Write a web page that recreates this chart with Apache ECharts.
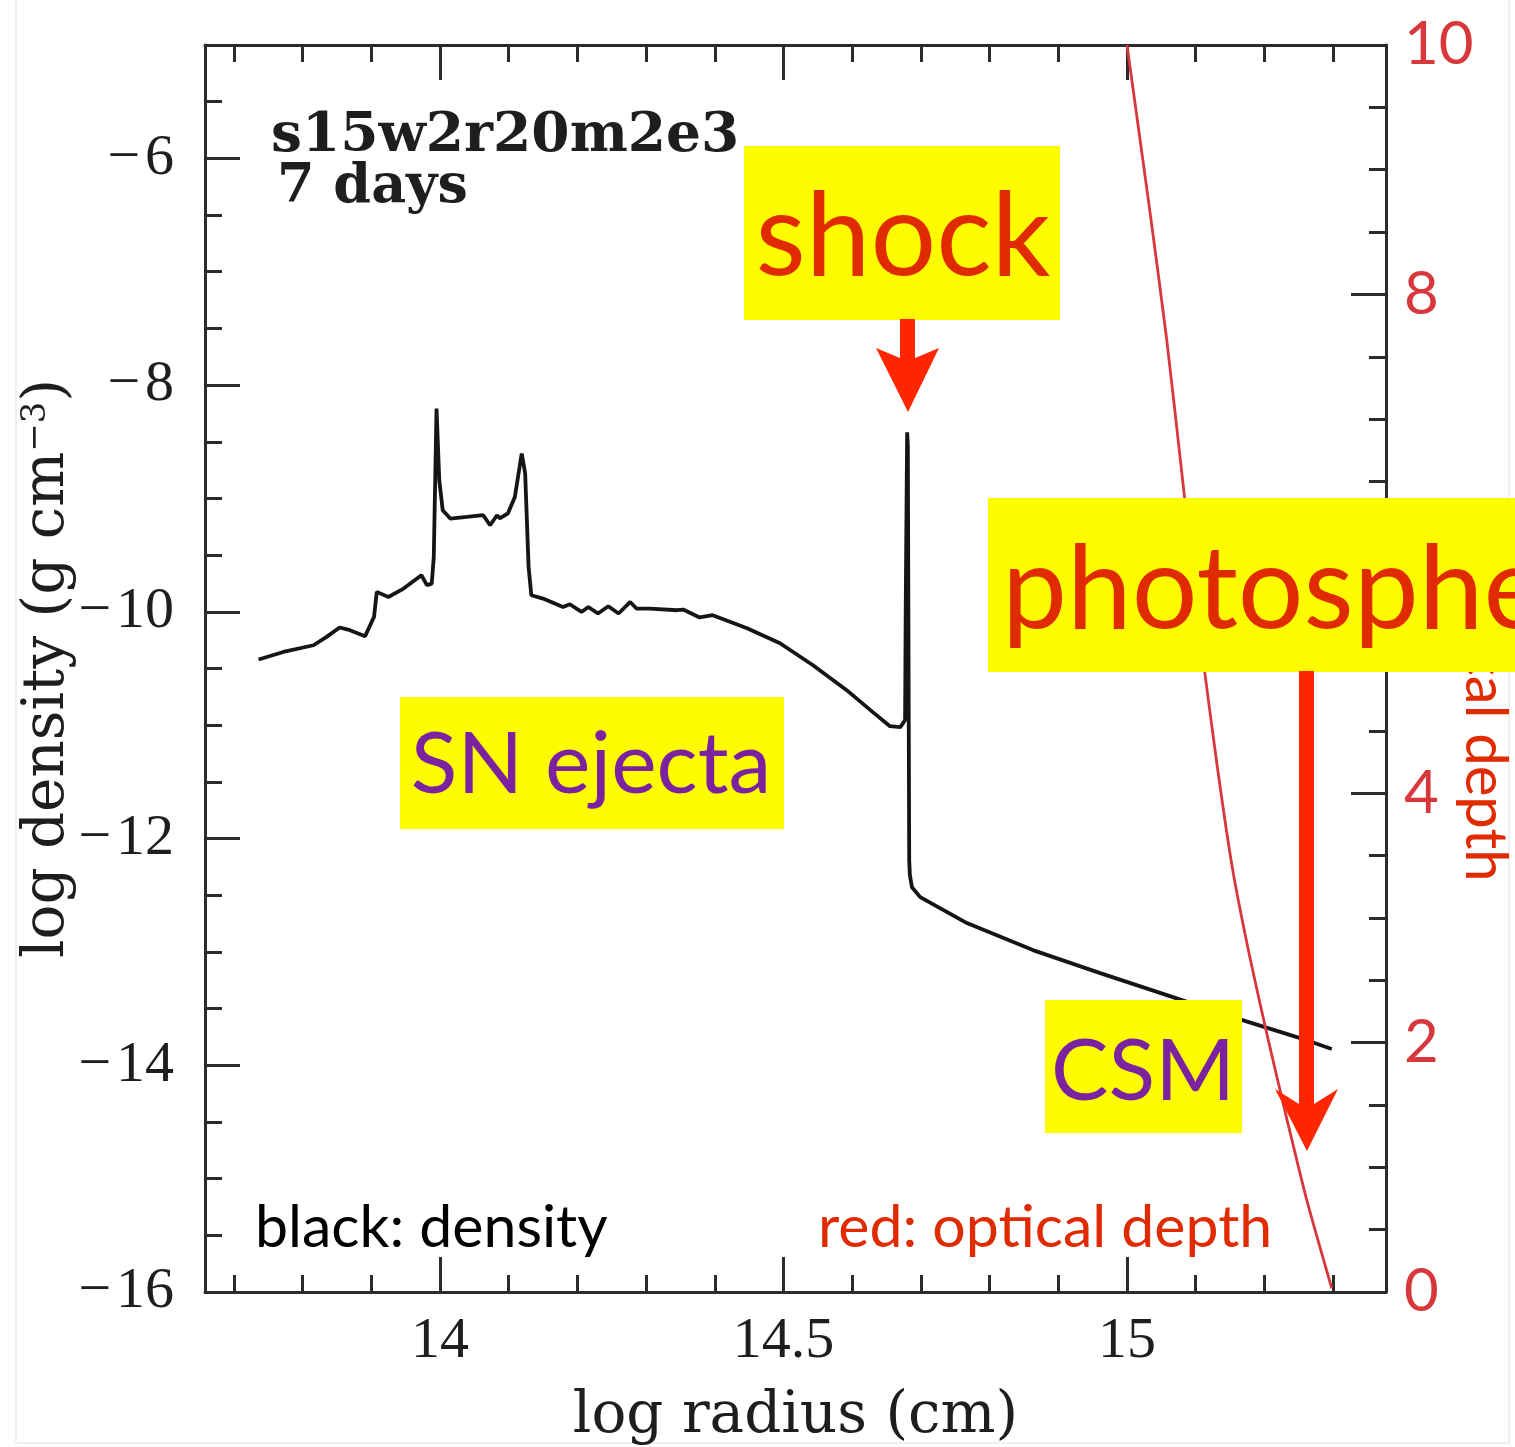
<!DOCTYPE html>
<html><head><meta charset="utf-8">
<script src="https://cdn.jsdelivr.net/npm/echarts@6/dist/echarts.min.js"></script>
<style>html,body{margin:0;padding:0;background:#fff}#c{width:1515px;height:1447px}</style>
</head><body><div id="c"></div>
<script>
// ---- data ----
const densityLogR = [13.736, 13.772, 13.816, 13.835, 13.854, 13.869, 13.891, 13.904, 13.908, 13.925,
  13.947, 13.973, 13.981, 13.988, 13.991, 13.995, 13.999, 14.004, 14.015, 14.039,
  14.063, 14.073, 14.083, 14.087, 14.099, 14.109, 14.119, 14.124, 14.129, 14.133,
  14.150, 14.179, 14.189, 14.206, 14.216, 14.230, 14.245, 14.260, 14.277, 14.286,
  14.306, 14.345, 14.354, 14.378, 14.397, 14.447, 14.495, 14.543, 14.592, 14.630,
  14.655, 14.670, 14.677, 14.678, 14.680, 14.681, 14.683, 14.684, 14.687, 14.699,
  14.767, 14.863, 14.961, 15.058, 15.154, 15.252, 15.298];
const densityLogRho = [-10.421, -10.354, -10.295, -10.221, -10.138, -10.162, -10.215, -10.045, -9.824, -9.869,
  -9.795, -9.677, -9.765, -9.751, -9.516, -8.207, -8.840, -9.104, -9.177, -9.163,
  -9.148, -9.236, -9.148, -9.175, -9.131, -8.987, -8.604, -8.778, -9.604, -9.854,
  -9.883, -9.957, -9.933, -10.001, -9.957, -10.015, -9.951, -10.015, -9.913, -9.971,
  -9.971, -9.986, -9.980, -10.050, -10.030, -10.145, -10.277, -10.471, -10.691, -10.885,
  -11.009, -11.018, -10.956, -9.898, -8.416, -8.531, -12.190, -12.323, -12.429, -12.517,
  -12.746, -12.984, -13.187, -13.381, -13.575, -13.760, -13.857];
const tauLogR  = [15.000, 15.033, 15.058, 15.082, 15.106, 15.131, 15.154, 15.179, 15.204, 15.233, 15.262, 15.298];
const tauValue = [10.0, 8.68, 7.63, 6.46, 5.28, 4.23, 3.38, 2.68, 2.06, 1.38, 0.73, 0.03];

const xMajorTicks = [14, 14.5, 15];
const xMinorTicks = [13.7, 13.8, 13.9, 14.1, 14.2, 14.3, 14.4, 14.6, 14.7, 14.8, 14.9, 15.1, 15.2, 15.3];
const yLeftMajorTicks = [-16, -14, -12, -10, -8, -6];
const yLeftMinorTicks = [-15.5, -15, -14.5, -13.5, -13, -12.5, -11.5, -11, -10.5, -9.5, -9, -8.5, -7.5, -7, -6.5, -5.5];
const yRightMajorTicks = [0, 2, 4, 6, 8, 10];
const yRightMinorTicks = [0.5, 1, 1.5, 2.5, 3, 3.5, 4.5, 5, 5.5, 6.5, 7, 7.5, 8.5, 9, 9.5];

// ---- styles ----
const FRAME = '#2b2b2b';
const TXT = '#1e1e1e';
const RED_TXT = '#e02a00';
const ARROW = '#ff2600';
const PURPLE = '#7a22a0';
const YELLOW = '#fffb00';
const SERIF = 'Liberation Serif';

function fmtNeg(v) { return v < 0 ? '\u2212\u200A' + Math.abs(v) : String(v); }

const xBase = { type: 'value', min: 13.658, max: 15.377, splitLine: { show: false } };
const yLBase = { type: 'value', min: -16, max: -5, splitLine: { show: false } };
const yRBase = { type: 'value', min: 0, max: 10, splitLine: { show: false } };

function tick(len, vals) {
  return { show: true, inside: true, length: len, customValues: vals, lineStyle: { color: FRAME, width: 3 } };
}
const lineOn = { show: true, onZero: false, lineStyle: { color: FRAME, width: 3 } };
const lineOff = { show: false, onZero: false };

const chart = echarts.init(document.getElementById('c'), null, { renderer: 'canvas' });
chart.setOption({
  backgroundColor: '#ffffff',
  animation: false,
  grid: { left: 205, right: 129, top: 45, bottom: 155, containLabel: false, outerBoundsMode: 'none' },
  xAxis: [
    Object.assign({}, xBase, {
      position: 'bottom', axisLine: lineOn, axisTick: tick(35, xMajorTicks),
      axisLabel: { customValues: xMajorTicks, formatter: v => String(v), fontFamily: SERIF, fontSize: 58, color: TXT, margin: 21 },
      name: 'log radius (cm)', nameLocation: 'middle', nameGap: 96,
      nameTextStyle: { fontFamily: 'DejaVu Serif', fontSize: 58, color: TXT }
    }),
    Object.assign({}, xBase, { position: 'bottom', axisLine: lineOff, axisTick: tick(17, xMinorTicks), axisLabel: { show: false } }),
    Object.assign({}, xBase, { position: 'top', axisLine: lineOn, axisTick: tick(35, xMajorTicks), axisLabel: { show: false } }),
    Object.assign({}, xBase, { position: 'top', axisLine: lineOff, axisTick: tick(17, xMinorTicks), axisLabel: { show: false } })
  ],
  yAxis: [
    Object.assign({}, yLBase, {
      position: 'left', axisLine: lineOn, axisTick: tick(35, yLeftMajorTicks),
      axisLabel: { customValues: yLeftMajorTicks, formatter: fmtNeg, fontFamily: SERIF, fontSize: 58, color: TXT, margin: 31 },
      name: 'log density (g cm{sup|\u22123})', nameLocation: 'middle', nameGap: 128, nameMoveOverlap: false,
      nameTextStyle: { fontFamily: 'DejaVu Serif', fontSize: 58, color: TXT,
        rich: { sup: { fontFamily: 'DejaVu Serif', fontSize: 34, color: TXT, verticalAlign: 'top' } } }
    }),
    Object.assign({}, yLBase, { position: 'left', axisLine: lineOff, axisTick: tick(17, yLeftMinorTicks), axisLabel: { show: false } }),
    Object.assign({}, yRBase, {
      position: 'right', axisLine: lineOn, axisTick: tick(35, yRightMajorTicks),
      axisLabel: { customValues: yRightMajorTicks, fontFamily: 'Lato', fontSize: 60, color: '#d8383c', margin: 18 },
      name: 'optical depth', nameLocation: 'middle', nameRotate: -90, nameGap: 70, nameMoveOverlap: false,
      nameTextStyle: { fontFamily: 'Lato', fontSize: 58, color: RED_TXT, padding: [0, 0, 0, 92] }
    }),
    Object.assign({}, yRBase, { position: 'right', axisLine: lineOff, axisTick: tick(17, yRightMinorTicks), axisLabel: { show: false } })
  ],
  series: [
    {
      name: 'density', type: 'line', xAxisIndex: 0, yAxisIndex: 0, symbol: 'none',
      lineStyle: { color: '#151515', width: 3.8 }, z: 3,
      data: densityLogR.map((r, i) => [r, densityLogRho[i]])
    },
    {
      name: 'optical depth', type: 'line', xAxisIndex: 0, yAxisIndex: 2, symbol: 'none', smooth: 0.2,
      lineStyle: { color: '#d8383c', width: 2.8 }, z: 3,
      data: tauLogR.map((r, i) => [r, tauValue[i]])
    }
  ],
  graphic: [
    { type: 'rect', z: 0, silent: true, shape: { x: 16, y: -4, width: 1493, height: 1447 }, style: { fill: 'none', stroke: '#ebebeb', lineWidth: 1.5 } },
    { type: 'text', z: 50, style: { text: 's15w2r20m2e3', x: 271, y: 137, font: 'bold 55px "DejaVu Serif"', fill: TXT, textAlign: 'left', textVerticalAlign: 'middle' } },
    { type: 'text', z: 50, style: { text: '7 days', x: 277, y: 188, font: 'bold 54px "DejaVu Serif"', fill: TXT, textAlign: 'left', textVerticalAlign: 'middle' } },

    { type: 'rect', z: 60, shape: { x: 744, y: 146, width: 316, height: 174 }, style: { fill: YELLOW } },
    { type: 'text', z: 61, style: { text: 'shock', x: 903, y: 238, font: '116px Lato', fill: RED_TXT, textAlign: 'center', textVerticalAlign: 'middle' } },
    { type: 'polygon', z: 61, shape: { points: [[900, 319], [915, 319], [915, 358], [939, 348], [908, 412], [876, 348], [900, 358]] }, style: { fill: ARROW } },

    { type: 'rect', z: 60, shape: { x: 988, y: 498, width: 540, height: 174 }, style: { fill: YELLOW } },
    { type: 'text', z: 61, style: { text: 'photosphere', x: 1002, y: 591, font: '116px Lato', fill: RED_TXT, textAlign: 'left', textVerticalAlign: 'middle' } },
    { type: 'polygon', z: 61, shape: { points: [[1299, 671], [1314, 671], [1314, 1104], [1338, 1089], [1307, 1151], [1275, 1089], [1299, 1104]] }, style: { fill: ARROW } },

    { type: 'rect', z: 60, shape: { x: 400, y: 697, width: 384, height: 132 }, style: { fill: YELLOW } },
    { type: 'text', z: 61, style: { text: 'SN ejecta', x: 591, y: 765, font: '86px Lato', fill: PURPLE, textAlign: 'center', textVerticalAlign: 'middle' } },

    { type: 'rect', z: 60, shape: { x: 1045, y: 1000, width: 197, height: 133 }, style: { fill: YELLOW } },
    { type: 'text', z: 61, style: { text: 'CSM', x: 1143, y: 1072, font: '86px Lato', fill: PURPLE, textAlign: 'center', textVerticalAlign: 'middle' } },

    { type: 'text', z: 50, style: { text: 'black: density', x: 255, y: 1228, font: '59px Lato', fill: '#000', textAlign: 'left', textVerticalAlign: 'middle' } },
    { type: 'text', z: 50, style: { text: 'red: optical depth', x: 818, y: 1228, font: '59px Lato', fill: RED_TXT, textAlign: 'left', textVerticalAlign: 'middle' } }
  ]
});
</script>
</body></html>
